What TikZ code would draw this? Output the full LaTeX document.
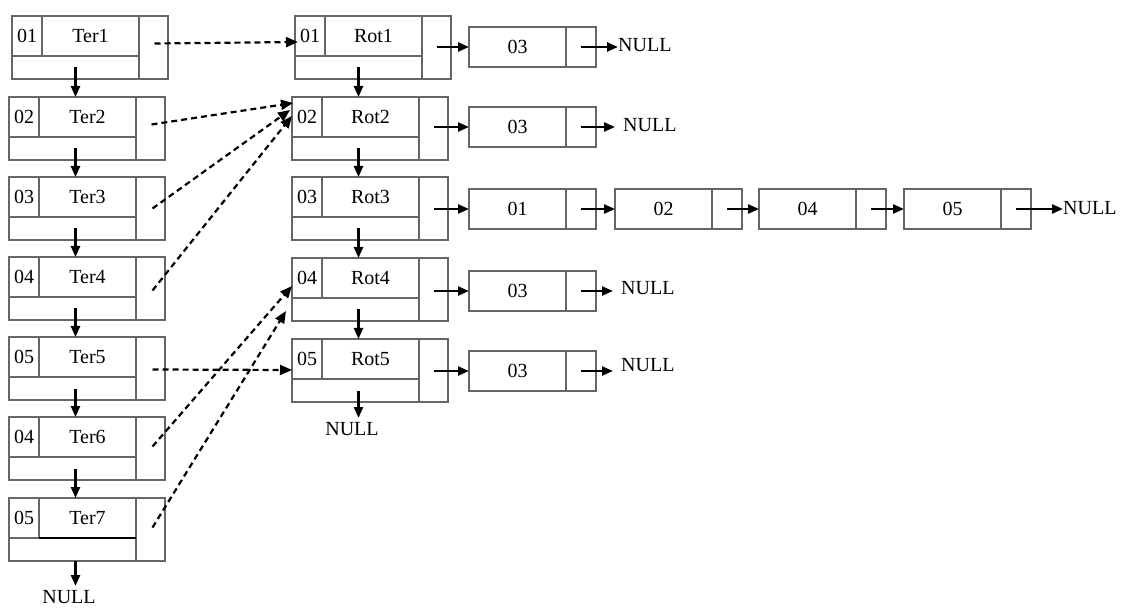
\documentclass[tikz,border=0pt]{standalone}
\usepackage{fontspec}
\setmainfont{Liberation Serif}
\usetikzlibrary{arrows.meta}
\newcommand{\recnode}[5]{%
  \node[cell, minimum width=30pt, minimum height=40pt] (#1-id) at (#2,#3) {#4};
  \node[cell, minimum width=97pt, minimum height=40pt] (#1-lab) at (#1-id.north east) {#5};
  \node[cell, minimum width=127pt, minimum height=23pt] (#1-bot) at (#1-id.south west) {};
  \node[cell, minimum width=29pt, minimum height=63pt] (#1-ptr) at (#1-lab.north east) {};
}
\newcommand{\lnknode}[4]{%
  \node[cell, minimum width=97pt, minimum height=40pt] (#1) at (#2,#3) {#4};
  \node[cell, minimum width=30pt, minimum height=40pt] (#1-ptr) at (#1.north east) {};
}
\begin{document}
\begin{tikzpicture}[x=1pt,y=-1pt,
  cell/.style={draw=black!60, line width=1.1pt, inner sep=0pt, outer sep=0pt,
    anchor=north west, font=\fontsize{20}{22}\selectfont},
  arr/.style={line width=2.4pt, -{Triangle[length=11pt,width=9pt]}},
  darr/.style={line width=2.2pt, dash pattern=on 6pt off 4pt, -{Triangle[length=12pt,width=10pt]}},
  nul/.style={inner sep=0pt, font=\fontsize{20}{22}\selectfont}]
\useasboundingbox[fill=white] (0,0) rectangle (1121,609);

% Ter list
\recnode{t1}{12}{16}{01}{Ter1}
\recnode{t2}{9}{97}{02}{Ter2}
\recnode{t3}{9}{177}{03}{Ter3}
\recnode{t4}{9}{257}{04}{Ter4}
\recnode{t5}{9}{337}{05}{Ter5}
\recnode{t6}{9}{417}{04}{Ter6}
\recnode{t7}{9}{498}{05}{Ter7}
\draw[black, line width=1.3pt] (t7-lab.south west) -- (t7-lab.south east);

% Rot list
\recnode{r1}{295}{16}{01}{Rot1}
\recnode{r2}{292}{97}{02}{Rot2}
\recnode{r3}{292}{177}{03}{Rot3}
\recnode{r4}{292}{258}{04}{Rot4}
\recnode{r5}{292}{339}{05}{Rot5}

% small boxes
\lnknode{a1}{469}{27}{03}
\lnknode{a2}{469}{107}{03}
\lnknode{c1}{469}{189}{01}
\lnknode{c2}{615}{189}{02}
\lnknode{c3}{759}{189}{04}
\lnknode{c4}{904}{189}{05}
\lnknode{a4}{469}{271}{03}
\lnknode{a5}{469}{351}{03}

% NULL labels
\node[nul, anchor=west] (n1) at (618,45) {NULL};
\node[nul, anchor=west, inner xsep=8pt] (n2) at (615,125) {NULL};
\node[nul, anchor=west] (n3) at (1063,208) {NULL};
\node[nul, anchor=west, inner xsep=8pt] (n4) at (613,288) {NULL};
\node[nul, anchor=west, inner xsep=8pt] (n5) at (613,365) {NULL};
\node[nul, anchor=north, inner ysep=4pt] (nr) at (352,418) {NULL};
\node[nul, anchor=north, inner ysep=4pt] (nt) at (69,586) {NULL};

% vertical arrows Ter
\draw[arr] (t1-bot.center) -- (t1-bot.center |- t2-id.north);
\draw[arr] (t1-bot.center |- t2-bot.center) -- (t1-bot.center |- t3-id.north);
\draw[arr] (t1-bot.center |- t3-bot.center) -- (t1-bot.center |- t4-id.north);
\draw[arr] (t1-bot.center |- t4-bot.center) -- (t1-bot.center |- t5-id.north);
\draw[arr] (t1-bot.center |- t5-bot.center) -- (t1-bot.center |- t6-id.north);
\draw[arr] (t1-bot.center |- t6-bot.center) -- (t1-bot.center |- t7-id.north);
\draw[arr] (t1-bot.center |- t7-bot.south) -- (t1-bot.center |- nt.north);

% vertical arrows Rot
\draw[arr] (r1-bot.center) -- (r1-bot.center |- r2-id.north);
\draw[arr] (r1-bot.center |- r2-bot.center) -- (r1-bot.center |- r3-id.north);
\draw[arr] (r1-bot.center |- r3-bot.center) -- (r1-bot.center |- r4-id.north);
\draw[arr] (r1-bot.center |- r4-bot.center) -- (r1-bot.center |- r5-id.north);
\draw[arr] (r1-bot.center |- r5-bot.center) -- (r1-bot.center |- nr.north);

% Rot -> lists
\draw[arr] (a1.west -| r1-ptr.center) -- (a1.west);
\draw[arr] (a2.west -| r2-ptr.center) -- (a2.west);
\draw[arr] (c1.west -| r3-ptr.center) -- (c1.west);
\draw[arr] (a4.west -| r4-ptr.center) -- (a4.west);
\draw[arr] (a5.west -| r5-ptr.center) -- (a5.west);
\draw[arr] (c1-ptr.center) -- (c2.west);
\draw[arr] (c2-ptr.center) -- (c3.west);
\draw[arr] (c3-ptr.center) -- (c4.west);

% to NULL
\draw[arr] (a1-ptr.center) -- (a1-ptr.center -| n1.west);
\draw[arr] (a2-ptr.center) -- (a2-ptr.center -| n2.west);
\draw[arr] (c4-ptr.center) -- (c4-ptr.center -| n3.west);
\draw[arr] (a4-ptr.center) -- (a4-ptr.center -| n4.west);
\draw[arr] (a5-ptr.center) -- (a5-ptr.center -| n5.west);

% dashed Ter -> Rot
\draw[darr] ([xshift=1pt,yshift=4pt]t1-ptr.center) -- ([xshift=3pt,yshift=-6pt]r1-id.west);
\draw[darr] ([xshift=1pt,yshift=4pt]t2-ptr.center) -- ([xshift=1pt,yshift=-6pt]r2-id.north west);
\draw[darr] ([xshift=2pt]t3-ptr.center) -- ([xshift=-2pt,yshift=-13pt]r2-id.north west);
\draw[darr] ([xshift=2pt,yshift=-2pt]t4-ptr.center) -- ([yshift=-19pt]r2-id.north west);
\draw[darr] ([xshift=2pt,yshift=-1pt]t5-ptr.center) -- ([yshift=-31pt]r5-id.north west);
\draw[darr] ([xshift=2pt,yshift=2pt]t6-ptr.center) -- ([yshift=-28pt]r4-id.north west);
\draw[darr] ([xshift=2pt,yshift=2pt]t7-ptr.center) -- ([xshift=-6pt,yshift=-53pt]r4-id.north west);
\end{tikzpicture}
\end{document}
